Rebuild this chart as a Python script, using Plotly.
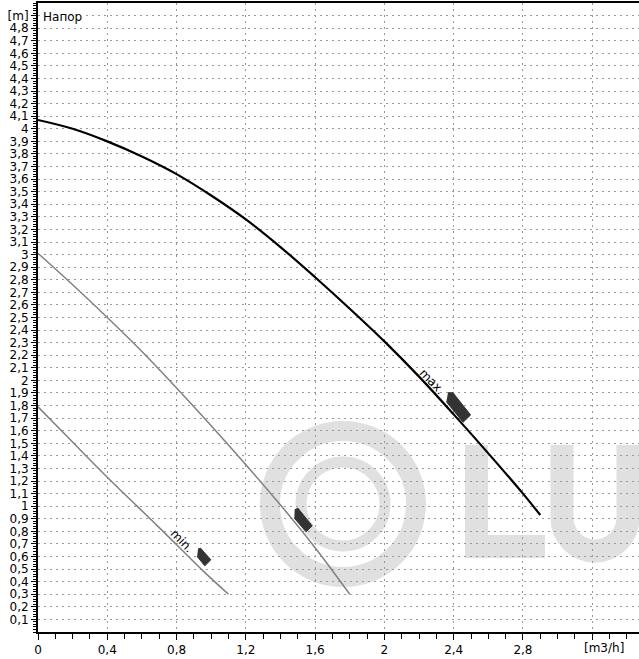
import numpy as np
import plotly.graph_objects as go

# pump curves, Q [m3/h] vs H [m]
q_max = [0, 0.2, 0.4, 0.6, 0.8, 1.0, 1.2, 1.4, 1.6, 1.8, 2.0, 2.2, 2.4, 2.6, 2.8, 2.9]
h_max = [4.07, 4.00, 3.90, 3.78, 3.64, 3.47, 3.28, 3.06, 2.82, 2.57, 2.31, 2.03, 1.73, 1.42, 1.10, 0.93]

q_mid = [0, 0.2, 0.4, 0.6, 0.8, 1.0, 1.2, 1.4, 1.6, 1.8]
h_mid = [3.01, 2.76, 2.50, 2.23, 1.94, 1.64, 1.33, 1.01, 0.67, 0.30]

q_min = [0, 0.15, 0.4, 0.7, 0.95, 1.1]
h_min = [1.79, 1.58, 1.23, 0.83, 0.49, 0.30]

# little flag markers next to the curves
flag_max_q = [2.367, 2.396, 2.498, 2.454, 2.358]
flag_max_h = [1.902, 1.902, 1.725, 1.667, 1.830]
flag_mid_q = [1.482, 1.501, 1.583, 1.548, 1.480]
flag_mid_h = [0.971, 0.984, 0.844, 0.796, 0.905]
flag_min_q = [0.924, 0.938, 0.998, 0.963, 0.919]
flag_min_h = [0.659, 0.667, 0.574, 0.526, 0.600]

x_tick_vals = [0, 0.4, 0.8, 1.2, 1.6, 2.0, 2.4, 2.8, 3.2]
x_tick_text = ["0", "0,4", "0,8", "1,2", "1,6", "2", "2,4", "2,8", ""]

y_tick_vals = [round(v / 10, 1) for v in range(1, 50)]
y_tick_text = [("%g" % v).replace(".", ",") for v in y_tick_vals[:-1]] + ["[m]"]

grid_col = "#999999"
mark_col = "#333333"
wm_col = "#e0e0e0"

fig = go.Figure()

fig.add_trace(go.Scatter(x=q_min, y=h_min, mode="lines", line_shape="spline",
                         line=dict(color="#808080", width=1.5)))
fig.add_trace(go.Scatter(x=q_mid, y=h_mid, mode="lines", line_shape="spline",
                         line=dict(color="#808080", width=1.5)))
fig.add_trace(go.Scatter(x=q_max, y=h_max, mode="lines", line_shape="spline",
                         line=dict(color="black", width=2.2)))

for fq, fh in [(flag_max_q, flag_max_h), (flag_mid_q, flag_mid_h), (flag_min_q, flag_min_h)]:
    fig.add_trace(go.Scatter(x=fq, y=fh, mode="lines", fill="toself",
                             fillcolor=mark_col, line=dict(color=mark_col, width=1)))

# watermark, pixel offsets from the (0, 0) corner of the plot
wm = dict(xref="x", yref="y", xsizemode="pixel", ysizemode="pixel",
          xanchor=0, yanchor=0, layer="below")
cx, cy = 305, 128
for r, w in [(73, 20), (42, 11)]:
    fig.add_shape(type="circle", x0=cx - r, x1=cx + r, y0=cy - r, y1=cy + r,
                  line=dict(color=wm_col, width=w), **wm)
fig.add_shape(type="rect", x0=427, x1=450, y0=74, y1=187,
              fillcolor=wm_col, line_width=0, **wm)
fig.add_shape(type="rect", x0=427, x1=507, y0=74, y1=97,
              fillcolor=wm_col, line_width=0, **wm)
fig.add_shape(type="path",
              path="M 524,187 L 524,114 C 524,96 539,81 557,81 C 575,81 590,96 590,114 L 590,187",
              line=dict(color=wm_col, width=23), **wm)

fig.add_annotation(x=2.277, y=1.989, text="max.", textangle=46, showarrow=False,
                   font=dict(size=12, color="black"))
fig.add_annotation(x=0.832, y=0.727, text="min.", textangle=46, showarrow=False,
                   font=dict(size=12, color="black"))
fig.add_annotation(xref="paper", x=0.006, xanchor="left", y=4.89, yanchor="middle",
                   text="Напор", showarrow=False, bgcolor="white", borderpad=0,
                   font=dict(size=12, color="black"))
fig.add_annotation(xref="x", x=3.27, yref="paper", y=0, yanchor="top", yshift=-7,
                   text="[m3/h]", showarrow=False, font=dict(size=12, color="black"))

fig.update_layout(
    width=639,
    height=659,
    margin=dict(l=38, r=0, t=3, b=27),
    plot_bgcolor="white",
    paper_bgcolor="white",
    showlegend=False,
    font=dict(family="DejaVu Sans", size=12, color="black"),
)

fig.update_xaxes(
    range=[0, 3.47], automargin=False,
    tickmode="array", tickvals=x_tick_vals, ticktext=x_tick_text,
    showgrid=True, gridcolor=grid_col, griddash="2px,4px", gridwidth=1,
    ticks="outside", ticklen=6, tickcolor="black",
    minor=dict(dtick=0.1, tick0=0, ticklen=5, tickcolor="black", showgrid=False),
    showline=True, linecolor="black", linewidth=2, mirror=True,
    zeroline=False,
)

fig.update_yaxes(
    range=[0, 5], automargin=False,
    tickmode="array", tickvals=y_tick_vals, ticktext=y_tick_text,
    showgrid=True, gridcolor=grid_col, griddash="2px,4px", gridwidth=1,
    ticks="outside", ticklen=5, tickcolor="black",
    minor=dict(dtick=0.02, tick0=0, ticklen=3, tickcolor="black", showgrid=False),
    showline=True, linecolor="black", linewidth=2,
    zeroline=False,
)

# page body has a default 8px margin; drop it so the figure fills the window
fig.write_html("out.html",
               config={"displayModeBar": False},
               post_script="document.body.style.margin='0';document.body.style.overflow='hidden';")
